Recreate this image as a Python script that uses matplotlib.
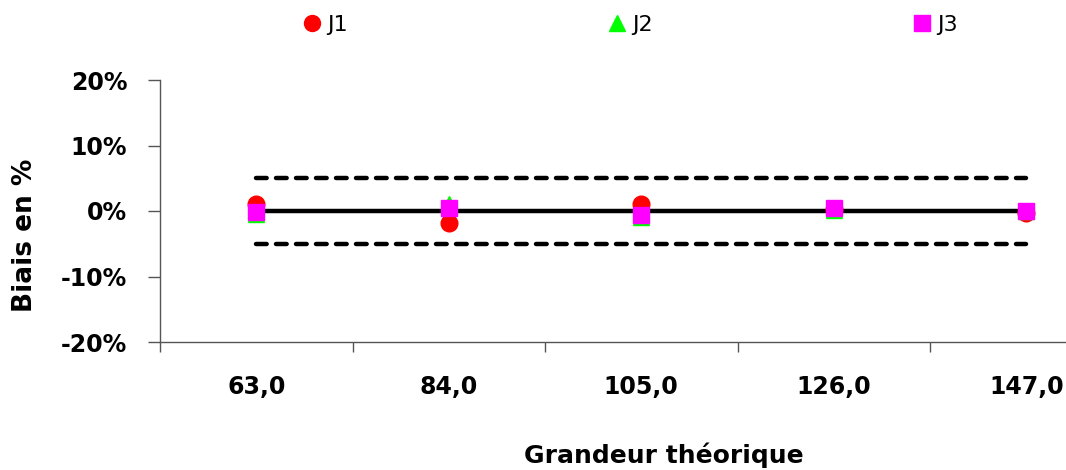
import matplotlib
matplotlib.use("Agg")
import matplotlib.pyplot as plt
from matplotlib.lines import Line2D
from matplotlib.ticker import FixedLocator, FuncFormatter
import numpy as np

# ---- data ----
categories = ["63,0", "84,0", "105,0", "126,0", "147,0"]
j1 = [1.0, -1.9, 1.0, 0.3, -0.25]
j2 = [-0.5, 1.0, -0.9, 0.1, 0.0]
j3 = [-0.15, 0.5, -0.65, 0.4, -0.05]
reference = 0.0
limits = [5.0, -5.0]
yticks = [-20, -10, 0, 10, 20]
series_names = ["J1", "J2", "J3"]

W, H = 1066, 470
fig = plt.figure(figsize=(W / 100, H / 100), dpi=100)
ax = fig.add_axes([160 / W, (H - 342) / H, (W - 160) / W, (342 - 80) / H])

x = np.arange(len(categories))

# reference and limit lines
ax.hlines(reference, x[0], x[-1], colors="black", linewidth=3.2, zorder=2)
for lim in limits:
    ax.plot([x[0], x[-1]], [lim, lim], color="black", linewidth=3.2,
            linestyle=(0, (2.4, 2.1)), dash_capstyle="round", zorder=2)

styles = [("o", "#FF0000"), ("^", "#00FF00"), ("s", "#FF00FF")]
handles = []
for vals, name, (m, c) in zip([j1, j2, j3], series_names, styles):
    ax.plot(x, vals, linestyle="none", marker=m, markersize=12,
            markerfacecolor=c, markeredgecolor=c, zorder=3, clip_on=False)
    handles.append(Line2D([], [], linestyle="none", marker=m, markersize=11.5,
                          markerfacecolor=c, markeredgecolor=c, label=name))

ax.set_ylim(-20, 20)
ax.set_xlim(-0.5, -0.5 + (W - 160) / 192.5)

ax.yaxis.set_major_locator(FixedLocator(yticks))
ax.yaxis.set_major_formatter(FuncFormatter(lambda v, p: f"{v:.0f}%"))

ax.xaxis.set_major_locator(FixedLocator(list(x - 0.5)))
ax.xaxis.set_major_formatter(FuncFormatter(lambda v, p: ""))
ax.xaxis.set_minor_locator(FixedLocator(list(x)))
ax.xaxis.set_minor_formatter(FuncFormatter(lambda v, p: categories[int(round(v))]))

for s in ["top", "right"]:
    ax.spines[s].set_visible(False)
for s in ["left", "bottom"]:
    ax.spines[s].set_color("#555555")
    ax.spines[s].set_linewidth(1.0)

ax.tick_params(axis="y", which="major", direction="out", length=8.5, width=1.0,
               color="#555555", pad=15, labelsize=17)
ax.tick_params(axis="x", which="major", direction="out", length=7.5, width=1.0,
               color="#555555")
ax.tick_params(axis="x", which="minor", length=0, pad=24, labelsize=17)
for lab in ax.get_yticklabels() + ax.get_xticklabels(minor=True):
    lab.set_fontweight("bold")

fig.text(664 / W, 1 - 463 / H, "Grandeur théorique", ha="center", va="baseline",
         fontsize=18, fontweight="bold")
fig.text(25 / W, 1 - 235 / H, "Biais en %", ha="center", va="center",
         rotation=90, fontsize=19, fontweight="bold")

fig.legend(handles=handles, ncol=3, loc="center left",
           bbox_to_anchor=(303 / W, 1 - 25 / H), frameon=False, fontsize=16,
           handlelength=0.8, handletextpad=0.3, columnspacing=11.7,
           borderpad=0, borderaxespad=0, numpoints=1)

fig.savefig("out.png", dpi=100)
